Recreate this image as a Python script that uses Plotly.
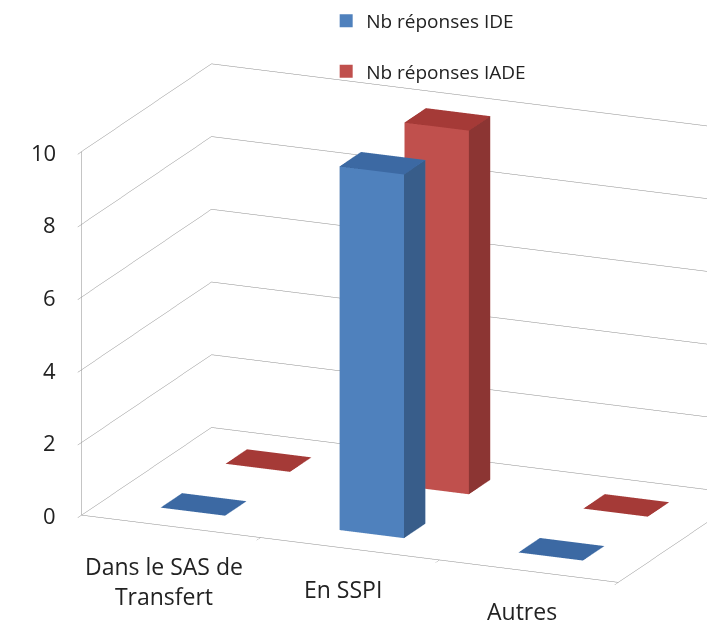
import plotly.graph_objects as go

categories = ["Dans le SAS de<br>Transfert", "En SSPI", "Autres"]
series_names = ["Nb réponses IDE", "Nb réponses IADE"]
ide_values = [0, 10, 0]
iade_values = [0, 10, 0]
z_ticks = [0, 2, 4, 6, 8, 10]

BAR_W = 0.36
BAR_D = 0.33
palette = [
    dict(front="#4F81BD", side="#385D8A", top="#3C69A3", legend="#4F81BD"),
    dict(front="#C0504D", side="#8C3533", top="#A53A37", legend="#C0504D"),
]
FONT = "Open Sans"
GRID = "#8C8C8C"


def box(xc, yc, h, col, name):
    x0, x1 = xc - BAR_W / 2, xc + BAR_W / 2
    y0, y1 = yc - BAR_D / 2, yc + BAR_D / 2
    X = [x0, x1, x1, x0, x0, x1, x1, x0]
    Y = [y0, y0, y1, y1, y0, y0, y1, y1]
    Z = [0, 0, 0, 0, h, h, h, h]
    I = [0, 0, 4, 4, 0, 0, 3, 3, 0, 0, 1, 1]
    J = [1, 2, 5, 6, 1, 5, 2, 6, 3, 7, 2, 6]
    K = [2, 3, 6, 7, 5, 4, 6, 7, 7, 4, 6, 5]
    fc = [col["top"]] * 4 + [col["front"]] * 4 + [col["side"]] * 4
    return go.Mesh3d(x=X, y=Y, z=Z, i=I, j=J, k=K, facecolor=fc, flatshading=True,
                     lighting=dict(ambient=1, diffuse=0, specular=0, roughness=1, fresnel=0),
                     hoverinfo="skip", showlegend=False, name=name, showscale=False)


fig = go.Figure()
for s, vals in enumerate([ide_values, iade_values]):
    for c, v in enumerate(vals):
        fig.add_trace(box(c, s, v, palette[s], series_names[s]))

for s, name in enumerate(series_names):
    fig.add_trace(go.Scatter(x=[None], y=[None], mode="markers", name=name,
                             legendgroup=name,
                             marker=dict(symbol="square", size=13, color=palette[s]["legend"])))

axis_common = dict(showbackground=False, zeroline=False, title=dict(text=""),
                   showspikes=False, linecolor=GRID, linewidth=1)
R = 2.0
dirv = (0.3785, -0.879, 0.291)
ctr = (-0.148, -0.059, 0.0142)
cfont = dict(size=23, family=FONT, color="#222222")
zfont = dict(size=22, family=FONT, color="#222222")
cat_ann = [dict(x=i, y=-0.5, z=0, text=cat, showarrow=False, xanchor="center",
                yanchor="top", yshift=-22, xshift=-7, font=cfont) for i, cat in enumerate(categories)]
z_ann = [dict(x=-0.5, y=-0.5, z=t, text=str(t), showarrow=False, xanchor="right",
              yanchor="middle", xshift=-24, font=zfont) for t in z_ticks]
fig.update_layout(
    width=715, height=621,
    margin=dict(l=0, r=0, t=0, b=0, autoexpand=False),
    paper_bgcolor="white", plot_bgcolor="white",
    font=dict(family=FONT, color="#222222", size=19),
    xaxis=dict(visible=False), yaxis=dict(visible=False),
    legend=dict(x=0.445, y=1.010, xanchor="left", yanchor="top", tracegroupgap=23,
                font=dict(size=19, family=FONT), bgcolor="rgba(0,0,0,0)"),
    scene=dict(
        domain=dict(x=[0, 1], y=[0, 1]),
        xaxis=dict(range=[-0.5, 2.5], showgrid=False, tickvals=[-0.5, 0.5, 1.5, 2.5],
                   showticklabels=False, ticks="outside", tickcolor=GRID, showline=True,
                   **axis_common),
        yaxis=dict(range=[-0.5, 1.5], showgrid=False, showticklabels=False, ticks="",
                   showline=True, **axis_common),
        zaxis=dict(range=[0, 10], tickvals=z_ticks, showgrid=True, gridcolor=GRID,
                   gridwidth=1, ticks="outside", tickcolor=GRID, showline=True,
                   showticklabels=False, **axis_common),
        aspectmode="manual",
        aspectratio=dict(x=1.882, y=1.057, z=1.224),
        camera=dict(eye=dict(x=ctr[0] + dirv[0] * R, y=ctr[1] + dirv[1] * R, z=ctr[2] + dirv[2] * R),
                    center=dict(x=ctr[0], y=ctr[1], z=ctr[2]),
                    up=dict(x=0, y=0, z=1),
                    projection=dict(type="orthographic")),
        annotations=cat_ann + z_ann,
    ),
)
fig.write_html("out.html")
